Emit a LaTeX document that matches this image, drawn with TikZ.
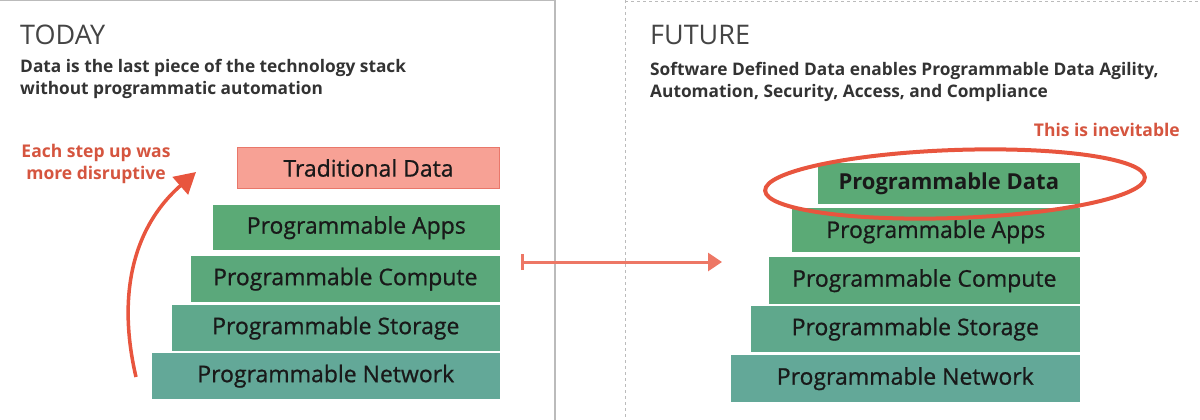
\documentclass[tikz,border=0pt]{standalone}
\usepackage{fontspec}
\setmainfont{Open Sans}
\newfontfamily\medfont[FakeBold=0.8]{Open Sans}
\usetikzlibrary{arrows.meta}
\definecolor{salmon}{HTML}{F7A195}
\definecolor{salmonedge}{HTML}{E9776A}
\definecolor{redline}{HTML}{E8553E}
\definecolor{redtext}{HTML}{D5553F}
\definecolor{greenA}{HTML}{5BAA76}
\definecolor{greenB}{HTML}{5BA87B}
\definecolor{greenC}{HTML}{5FA88C}
\definecolor{greenD}{HTML}{63A898}
\definecolor{titlegray}{HTML}{444444}
\definecolor{framegray}{HTML}{BBBBBB}
\tikzset{
  layer/.style={anchor=north east, inner sep=0pt, minimum height=#1,
    font=\medfont\fontsize{23}{26}\selectfont, text=black!90},
  title/.style={anchor=base west, inner sep=0pt, text=titlegray,
    font=\fontsize{27}{30}\selectfont},
  sub/.style={anchor=north west, inner sep=0pt, align=left, text=black!80,
    font=\fontsize{17.3}{22.5}\selectfont\bfseries},
  note/.style={inner sep=0pt, text=redtext, font=\fontsize{17.5}{22.5}\selectfont\bfseries}
}
\begin{document}
\begin{tikzpicture}[x=1pt, y=-1pt]
  \useasboundingbox (0,0) rectangle (1200,420);
  % frames
  \draw[framegray, line width=1.2pt] (0,0.6) -- (555,0.6) -- (555,420);
  \draw[framegray, line width=1pt, dash pattern=on 3pt off 3pt] (625,0) -- (625,420);
  \draw[framegray, line width=1pt, dash pattern=on 3pt off 3pt] (625,1.5) -- (1200,1.5);

  % today
  \node[title] (today) at (20,45) {TODAY};
  \node[sub] (todaysub) at (20,59) {Data is the last piece of the technology stack\\without programmatic automation};
  \node[layer=41pt, minimum width=262pt, fill=salmon, draw=salmonedge, line width=1pt] (tdata) at (500,147) {Traditional Data};
  \node[layer=45pt, minimum width=287pt, fill=greenA] (lapps) at (500,205) {Programmable Apps};
  \node[layer=46pt, minimum width=309pt, fill=greenB] (lcompute) at (500,256) {Programmable Compute};
  \node[layer=46pt, minimum width=328pt, fill=greenC] (lstorage) at (500,305) {Programmable Storage};
  \node[layer=46pt, minimum width=348pt, fill=greenD] (lnetwork) at (500,353) {Programmable Network};
  \node[note, align=center, anchor=north] (steps) at (96,144) {Each step up was\\more disruptive};
  \coordinate (stepfrom) at (136,377);
  \coordinate (stepto) at (196,172);
  \draw[redline, line width=3.5pt, -{Triangle[length=21pt, width=23pt]}]
    (stepfrom) .. controls (118,300) and (130,230) .. (stepto);

  % future
  \node[title] (future) at (650,45) {FUTURE};
  \node[sub] (futuresub) at (650,62) {Software Defined Data enables Programmable Data Agility,\\Automation, Security, Access, and Compliance};
  \node[note, anchor=base east] (inevitable) at (1180,136) {This is inevitable};
  \node[layer=41pt, minimum width=262pt, fill=greenA, font=\fontsize{22}{24}\selectfont\bfseries] (rdata) at (1080,163) {Programmable Data};
  \node[layer=44pt, minimum width=288pt, fill=greenA, text depth=2pt] (rapps) at (1080,208) {Programmable Apps};
  \node[layer=47pt, minimum width=311pt, fill=greenB] (rcompute) at (1080,257) {Programmable Compute};
  \node[layer=46pt, minimum width=329pt, fill=greenC] (rstorage) at (1080,306) {Programmable Storage};
  \node[layer=47pt, minimum width=349pt, fill=greenD] (rnetwork) at (1080,355) {Programmable Network};
  \draw[redline, line width=4pt, rotate around={2:(955,184)}] (955,184) ellipse [x radius=190pt, y radius=34pt];

  % shift arrow
  \coordinate (shiftfrom) at (521,262);
  \coordinate (shiftto) at (722,262);
  \draw[redline!80, line width=3pt, {Bar[width=16pt]}-{Triangle[length=14pt, width=18pt]}] (shiftfrom) -- (shiftto);
\end{tikzpicture}
\end{document}
